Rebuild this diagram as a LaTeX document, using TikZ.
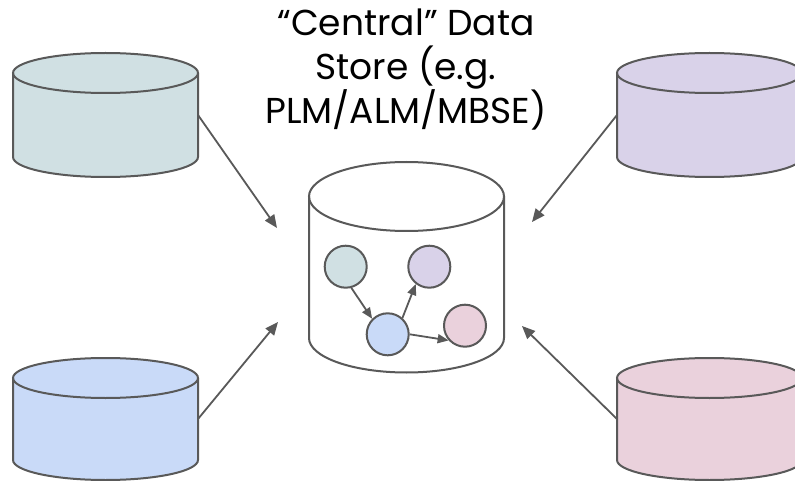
\documentclass[tikz,border=0pt]{standalone}
\usepackage{fontspec}
\setmainfont{Poppins}
\usetikzlibrary{arrows.meta}
\definecolor{edgegray}{HTML}{595959}
\definecolor{tealfill}{HTML}{D0E0E3}
\definecolor{purplefill}{HTML}{D9D2E9}
\definecolor{bluefill}{HTML}{C9DAF8}
\definecolor{pinkfill}{HTML}{EAD1DC}
\tikzset{
  cylline/.style={draw=edgegray, line width=2pt},
  conn/.style={draw=edgegray, line width=1.8pt, -{Triangle[length=13pt,width=11pt]}},
  sconn/.style={draw=edgegray, line width=1.8pt, -{Triangle[length=11pt,width=9pt]}},
  smallnode/.style={circle, draw=edgegray, line width=2pt, minimum size=42pt, inner sep=0pt},
  anchorbox/.style={inner sep=0pt, outer sep=0pt, draw=none},
  title/.style={align=center, inner sep=0pt, font=\fontsize{36}{44}\selectfont, text=black}
}
% #1 name, #2 cx, #3 top cy, #4 bottom cy, #5 rx, #6 ry, #7 fill
\newcommand{\dbcyl}[7]{%
  \fill[#7] ({#2-#5},#3) rectangle ({#2+#5},#4);
  \fill[#7] (#2,#4) ellipse [x radius=#5pt, y radius=#6pt];
  \fill[#7] (#2,#3) ellipse [x radius=#5pt, y radius=#6pt];
  \draw[cylline] (#2,#3) ellipse [x radius=#5pt, y radius=#6pt];
  \draw[cylline] ({#2-#5},#3) -- ({#2-#5},#4) arc[start angle=180, end angle=360, x radius=#5pt, y radius=#6pt] -- ({#2+#5},#3);
  \node[anchorbox, minimum width={2*#5*1pt}, minimum height={(#4-#3)*1pt}] (#1) at ({#2},{(#3+#4)/2}) {};
}
\begin{document}
\begin{tikzpicture}[x=1pt, y=-1pt]
\useasboundingbox (0,0) rectangle (795,481);
\fill[white] (0,0) rectangle (795,481);

\dbcyl{dbtl}{105.5}{73}{157}{92.5}{20}{tealfill}
\dbcyl{dbbl}{105.5}{378}{460}{92.5}{20}{bluefill}
\dbcyl{dbtr}{709.5}{73}{157}{92.5}{20}{purplefill}
\dbcyl{dbbr}{709.5}{378}{460}{92.5}{20}{pinkfill}
\dbcyl{central}{406.5}{196.5}{338}{97.5}{34.5}{white}

\node[title, anchor=north] (label) at (406,9) {“Central” Data\\Store (e.g.\\PLM/ALM/MBSE)};

\node[smallnode, fill=tealfill] (c1) at (345.7,266.7) {};
\node[smallnode, fill=purplefill] (c2) at (429.3,266.7) {};
\node[smallnode, fill=bluefill] (c3) at (387.7,334.3) {};
\node[smallnode, fill=pinkfill] (c4) at (465,325.7) {};

\draw[sconn] (c1.285) -- (c3.135);
\draw[sconn] (c3.48) -- (c2.232);
\draw[sconn] (c3.east) -- (c4.222);

\coordinate (etl) at (277,228);
\coordinate (ebl) at (278,322);
\coordinate (etr) at (532,222);
\coordinate (ebr) at (522,326);

\draw[conn] (dbtl.east) -- (etl);
\draw[conn] (dbbl.east) -- (ebl);
\draw[conn] (dbtr.west) -- (etr);
\draw[conn] (dbbr.west) -- (ebr);
\end{tikzpicture}
\end{document}
